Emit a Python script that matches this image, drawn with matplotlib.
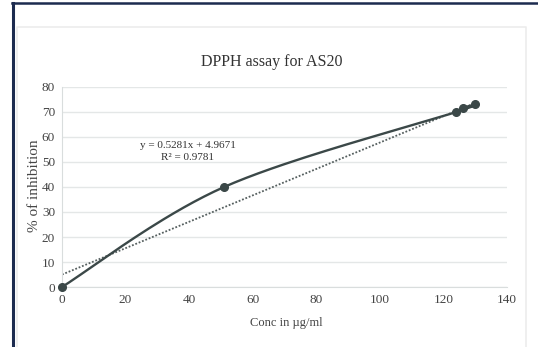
import numpy as np
import matplotlib.pyplot as plt
from matplotlib.lines import Line2D

plt.rcParams['font.family'] = ['Liberation Serif', 'DejaVu Serif']

# data
conc = [0, 51, 124, 126, 130]
inhibition = [0, 40, 70, 71.5, 73]
slope = 0.5281
intercept = 4.9671
r2 = 0.9781

x_ticks = [0, 20, 40, 60, 80, 100, 120, 140]
y_ticks = [0, 10, 20, 30, 40, 50, 60, 70, 80]

line_col = '#3b4848'
grid_col = '#e4e7e7'
text_col = '#444444'


def smooth(xs, ys, n=40):
    # catmull-rom curve through the points, like excel's smoothed line
    px = np.array([xs[0]] + list(xs) + [xs[-1]], dtype=float)
    py = np.array([ys[0]] + list(ys) + [ys[-1]], dtype=float)
    outx, outy = [], []
    t = np.linspace(0, 1, n)
    for i in range(1, len(px) - 2):
        for arr, out in ((px, outx), (py, outy)):
            p0, p1, p2, p3 = arr[i - 1], arr[i], arr[i + 1], arr[i + 2]
            out.extend(0.5 * ((2 * p1) + (-p0 + p2) * t
                              + (2 * p0 - 5 * p1 + 4 * p2 - p3) * t ** 2
                              + (-p0 + 3 * p1 - 3 * p2 + p3) * t ** 3))
    return outx, outy


fig = plt.figure(figsize=(5.38, 3.47), dpi=100)
ax = fig.add_axes([0.1152, 0.1729, 0.9424 - 0.1152, 0.7493 - 0.1729])

# outer frame lines
fig.add_artist(Line2D([0.025, 0.025], [0, 0.99], transform=fig.transFigure,
                      color='#1c2b4f', lw=2.2))
fig.add_artist(Line2D([0.023, 1], [0.99, 0.99], transform=fig.transFigure,
                      color='#1c2b4f', lw=1.8))
# chart area border
fig.add_artist(Line2D([0.031, 0.031, 0.978, 0.978], [0, 0.922, 0.922, 0],
                      transform=fig.transFigure, color='#ececec', lw=1.2))

sx, sy = smooth(conc, inhibition)
ax.plot(sx, sy, color=line_col, lw=1.7, zorder=3, clip_on=False)
ax.plot(conc, inhibition, 'o', color=line_col, ms=5.5, zorder=4, clip_on=False)

tx = np.array([min(conc), max(conc)])
ax.plot(tx, slope * tx + intercept, linestyle=(0, (1, 1)), color='#555f5f',
        lw=1.3, zorder=2)

ax.text(39.5, 56.5, f'y = {slope}x + {intercept}', ha='center', va='center',
        fontsize=8, color='#333333')
ax.text(39.5, 51.6, f'R² = {r2}', ha='center', va='center',
        fontsize=8, color='#333333')

ax.set_xlim(0, 140)
ax.set_ylim(0, 80)
ax.set_xticks(x_ticks)
ax.set_yticks(y_ticks)
ax.tick_params(length=0, labelsize=9.5, labelcolor=text_col, pad=5)
ax.grid(axis='y', color=grid_col, lw=1)
ax.set_axisbelow(True)
for s in ['top', 'right']:
    ax.spines[s].set_visible(False)
for s in ['left', 'bottom']:
    ax.spines[s].set_color('#d9dddd')

fig.text(0.506, 0.821, 'DPPH assay for AS20', ha='center', va='center',
         fontsize=11.5, color='#333333')
fig.text(0.065, 0.465, '% of inhibition', ha='center', va='center',
         rotation=90, fontsize=11, color=text_col)
fig.text(0.533, 0.069, 'Conc in µg/ml', ha='center', va='center',
         fontsize=9, color=text_col)

fig.savefig('out.png', dpi=100)
